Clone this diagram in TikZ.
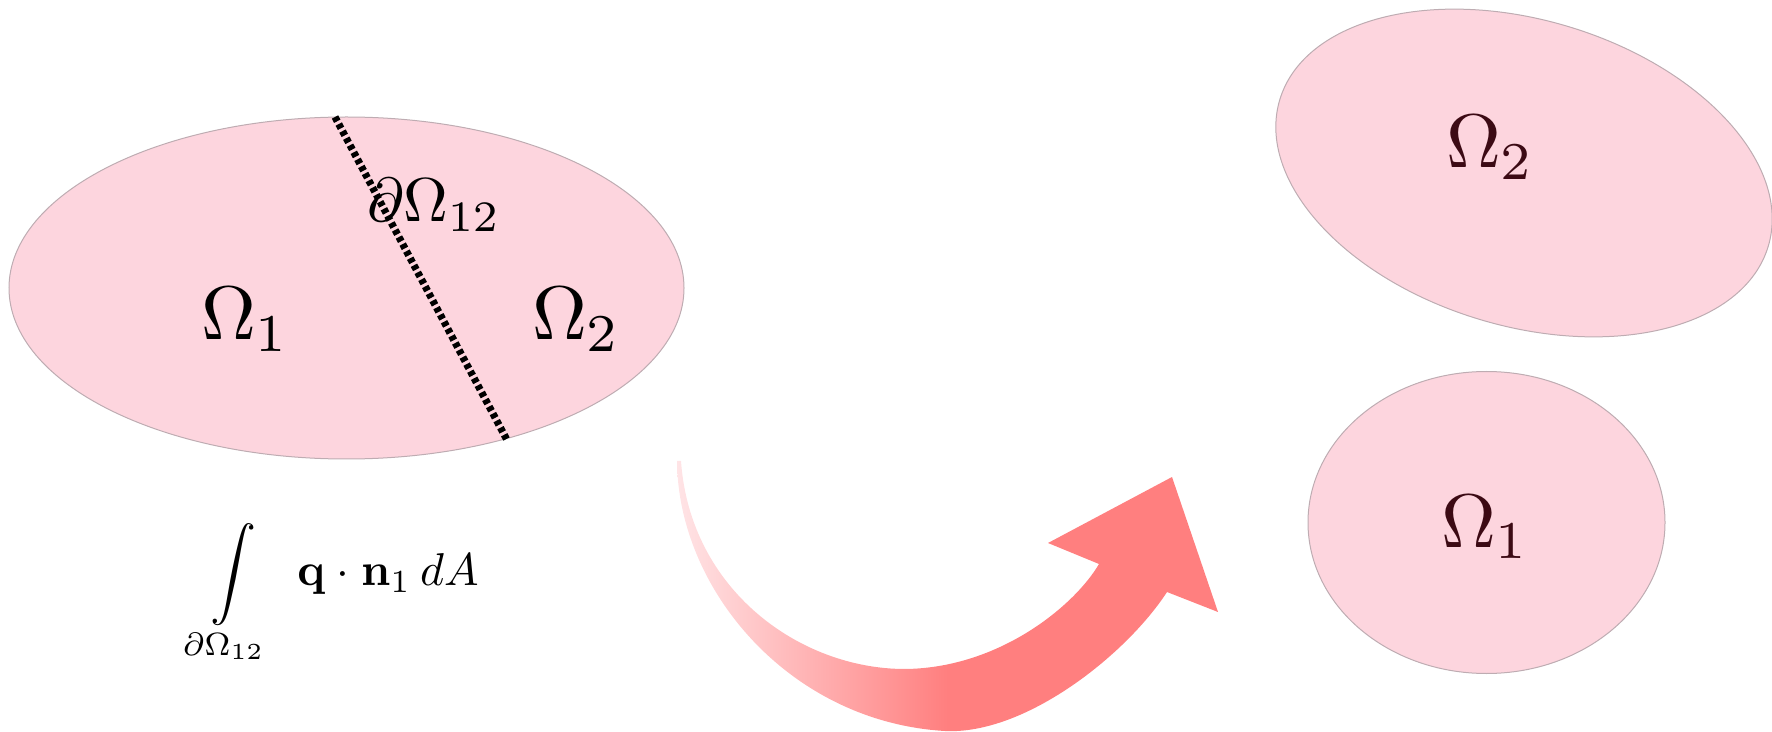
\RequirePackage{fix-cm}
\documentclass[tikz,border=0pt]{standalone}
\usepackage{amsmath}
\usepackage{graphicx}
\usetikzlibrary{shapes.geometric}
\definecolor{regionfill}{RGB}{253,213,222}
\definecolor{regionline}{RGB}{190,172,178}
\definecolor{arrowred}{RGB}{255,127,127}
\definecolor{arrowpale}{RGB}{255,228,230}
\definecolor{labeldark}{RGB}{60,10,20}
\pgfdeclarehorizontalshading{arrowshade}{100bp}{color(0bp)=(arrowpale); color(25bp)=(arrowpale); color(50bp)=(arrowred); color(100bp)=(arrowred)}
\newcommand{\biglab}[1]{\scalebox{3.8}{$#1$}}
\begin{document}
\begin{tikzpicture}[x=0.5pt,y=-0.5pt,
  region/.style={ellipse, fill=regionfill, draw=regionline, line width=0.5pt, inner sep=0pt, outer sep=0pt},
  biglabel/.style={inner sep=0pt, outer sep=0pt, anchor=base west},
  formula/.style={inner sep=0pt, outer sep=0pt, anchor=north west},
  interface/.style={draw=black, line width=3.6pt, dash pattern=on 2.4pt off 1.6pt}]
\useasboundingbox (0,0) rectangle (1772,732);

% whole domain
\node[region, minimum width=337.5pt, minimum height=171pt] (whole) at (346.5,288) {};
\coordinate (ifTop) at (335,117);
\coordinate (ifBot) at (507,440);
\draw[interface] (ifTop) -- (ifBot);
\node[biglabel] (edge) at (367,222) {\scalebox{3.1}{$\partial\Omega_{12}$}};
\node[biglabel] (leftOne) at (201,340) {\biglab{\Omega_1}};
\node[biglabel] (leftTwo) at (532,340) {\biglab{\Omega_2}};

% flux integral
\node[formula] (flux) at (193,523) {\scalebox{2.3}{$\displaystyle\int\limits_{\partial\Omega_{12}}\mskip6mu\mathbf{q}\mskip0.5mu\cdot\mskip0.5mu\mathbf{n}_1\mskip3.5mu dA$}};

% separated subdomains
\node[region, minimum width=255pt, minimum height=153pt, rotate=-16.7] (subTwo) at (1524,173) {};
\node[region, minimum width=178.5pt, minimum height=151pt] (subOne) at (1486.5,522.5) {};
\node[biglabel, text=labeldark] (rightTwo) at (1446,168) {\biglab{\Omega_2}};
\node[biglabel, text=labeldark] (rightOne) at (1441,547) {\biglab{\Omega_1}};

% curved arrow
\shade[shading=arrowshade]
  (677,461) .. controls (678,590) and (790,722) .. (945,731)
  .. controls (1025,735) and (1126,655) .. (1167,592)
  -- (1218,612) -- (1172,477) -- (1048,543) -- (1099,564)
  .. controls (1075,605) and (1000,668) .. (905,669)
  .. controls (800,669) and (690,590) .. (681,461) -- cycle;
\end{tikzpicture}
\end{document}
